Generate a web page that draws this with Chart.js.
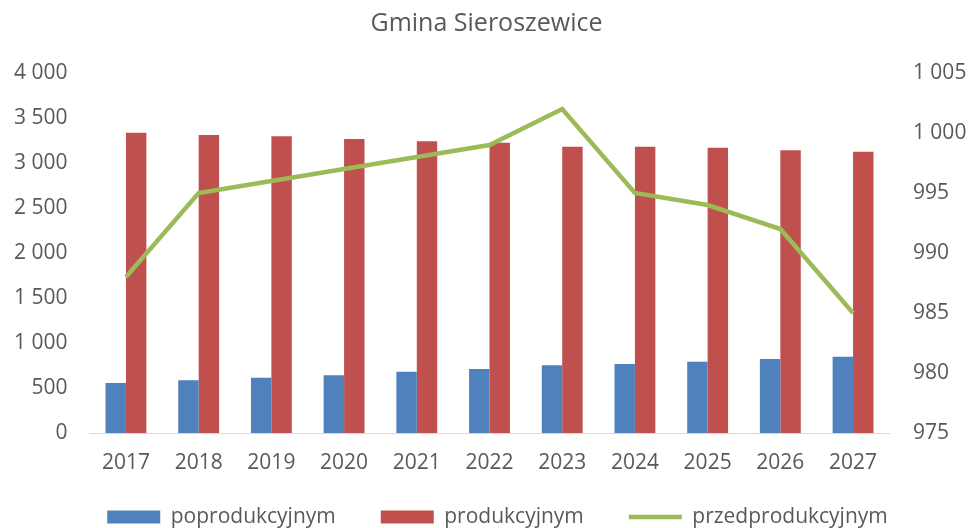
<!DOCTYPE html>
<html>
<head>
<meta charset="utf-8">
<script src="https://cdn.jsdelivr.net/npm/chart.js@4"></script>
<style>
	body { margin: 0; background: #fff; }
	#wrap { width: 973px; height: 528px; }
</style>
</head>
<body>
<div id="wrap"><canvas id="chart" width="973" height="528"></canvas></div>
<script>
const years = ["2017", "2018", "2019", "2020", "2021", "2022", "2023", "2024", "2025", "2026", "2027"];
const poprodukcyjnym = [556, 585, 615, 641, 681, 711, 752, 767, 793, 822, 848];
const produkcyjnym = [3337, 3311, 3296, 3267, 3241, 3226, 3181, 3181, 3170, 3141, 3126];
const przedprodukcyjnym = [988, 995, 996, 997, 998, 999, 1002, 995, 994, 992, 985];

const font_family = "'Open Sans', sans-serif";
const text_color = "#595959";

let fmt = (v) => String(v).replace(/\B(?=(\d{3})+(?!\d))/g, " ");

// legend sits a bit higher and to the right than chart.js puts it
const move_legend = {
	id: 'move_legend',
	afterLayout: (chart) => {
		const lg = chart.legend;
		lg.top -= 14.5;
		lg.bottom -= 14.5;
		lg.left += 11;
		lg.right += 11;
	}
};

const chart_elem = document.getElementById("chart");

const config = {
	type: 'bar',
	data: {
		labels: years,
		datasets: [
			{
				label: "poprodukcyjnym",
				data: poprodukcyjnym,
				backgroundColor: "#4F81BD",
				yAxisID: 'y',
				order: 0,
				pointStyle: 'rect'
			},
			{
				label: "produkcyjnym",
				data: produkcyjnym,
				backgroundColor: "#C0504D",
				yAxisID: 'y',
				order: 0,
				pointStyle: 'rect'
			},
			{
				type: 'line',
				label: "przedprodukcyjnym",
				data: przedprodukcyjnym,
				borderColor: "#9BBB59",
				backgroundColor: "#9BBB59",
				borderWidth: 4.5,
				pointRadius: 0,
				pointStyle: 'line',
				tension: 0,
				yAxisID: 'y1',
				order: -1
			}
		]
	},
	options: {
		responsive: false,
		animation: false,
		layout: {
			padding: { top: 0, left: 0, right: 0, bottom: -24 }
		},
		datasets: {
			bar: {
				barPercentage: 1,
				categoryPercentage: 0.562
			}
		},
		plugins: {
			title: {
				display: true,
				text: "Gmina Sieroszewice",
				color: text_color,
				font: { family: font_family, size: 25, weight: 'normal', lineHeight: 1.2 },
				padding: { top: 9, bottom: 34 }
			},
			legend: {
				position: 'bottom',
				labels: {
					usePointStyle: true,
					pointStyleWidth: 53,
					boxHeight: 13,
					padding: 45,
					color: text_color,
					font: { family: font_family, size: 21 },
					sort: (a, b) => a.datasetIndex - b.datasetIndex
				}
			},
			tooltip: { enabled: false }
		},
		scales: {
			x: {
				grid: { display: false, drawTicks: false },
				border: { display: true, color: "#D9D9D9", width: 1 },
				ticks: {
					color: text_color,
					font: { family: font_family, size: 21 },
					padding: 17,
					maxRotation: 0
				},
				afterFit: (scale) => { scale.height = 43; }
			},
			y: {
				position: 'left',
				min: 0,
				max: 4000,
				grid: { display: false, drawTicks: false },
				border: { display: false },
				ticks: {
					stepSize: 500,
					color: text_color,
					font: { family: font_family, size: 21 },
					padding: 22,
					callback: (v) => fmt(v)
				},
				afterFit: (scale) => { scale.width = 89.6; }
			},
			y1: {
				position: 'right',
				min: 975,
				max: 1005,
				grid: { display: false, drawTicks: false },
				border: { display: false },
				ticks: {
					stepSize: 5,
					color: text_color,
					font: { family: font_family, size: 21 },
					padding: 23.5,
					callback: (v) => fmt(v)
				},
				afterFit: (scale) => { scale.width = 83.6; }
			}
		}
	},
	plugins: [move_legend]
};

new Chart(chart_elem, config);
</script>
</body>
</html>
